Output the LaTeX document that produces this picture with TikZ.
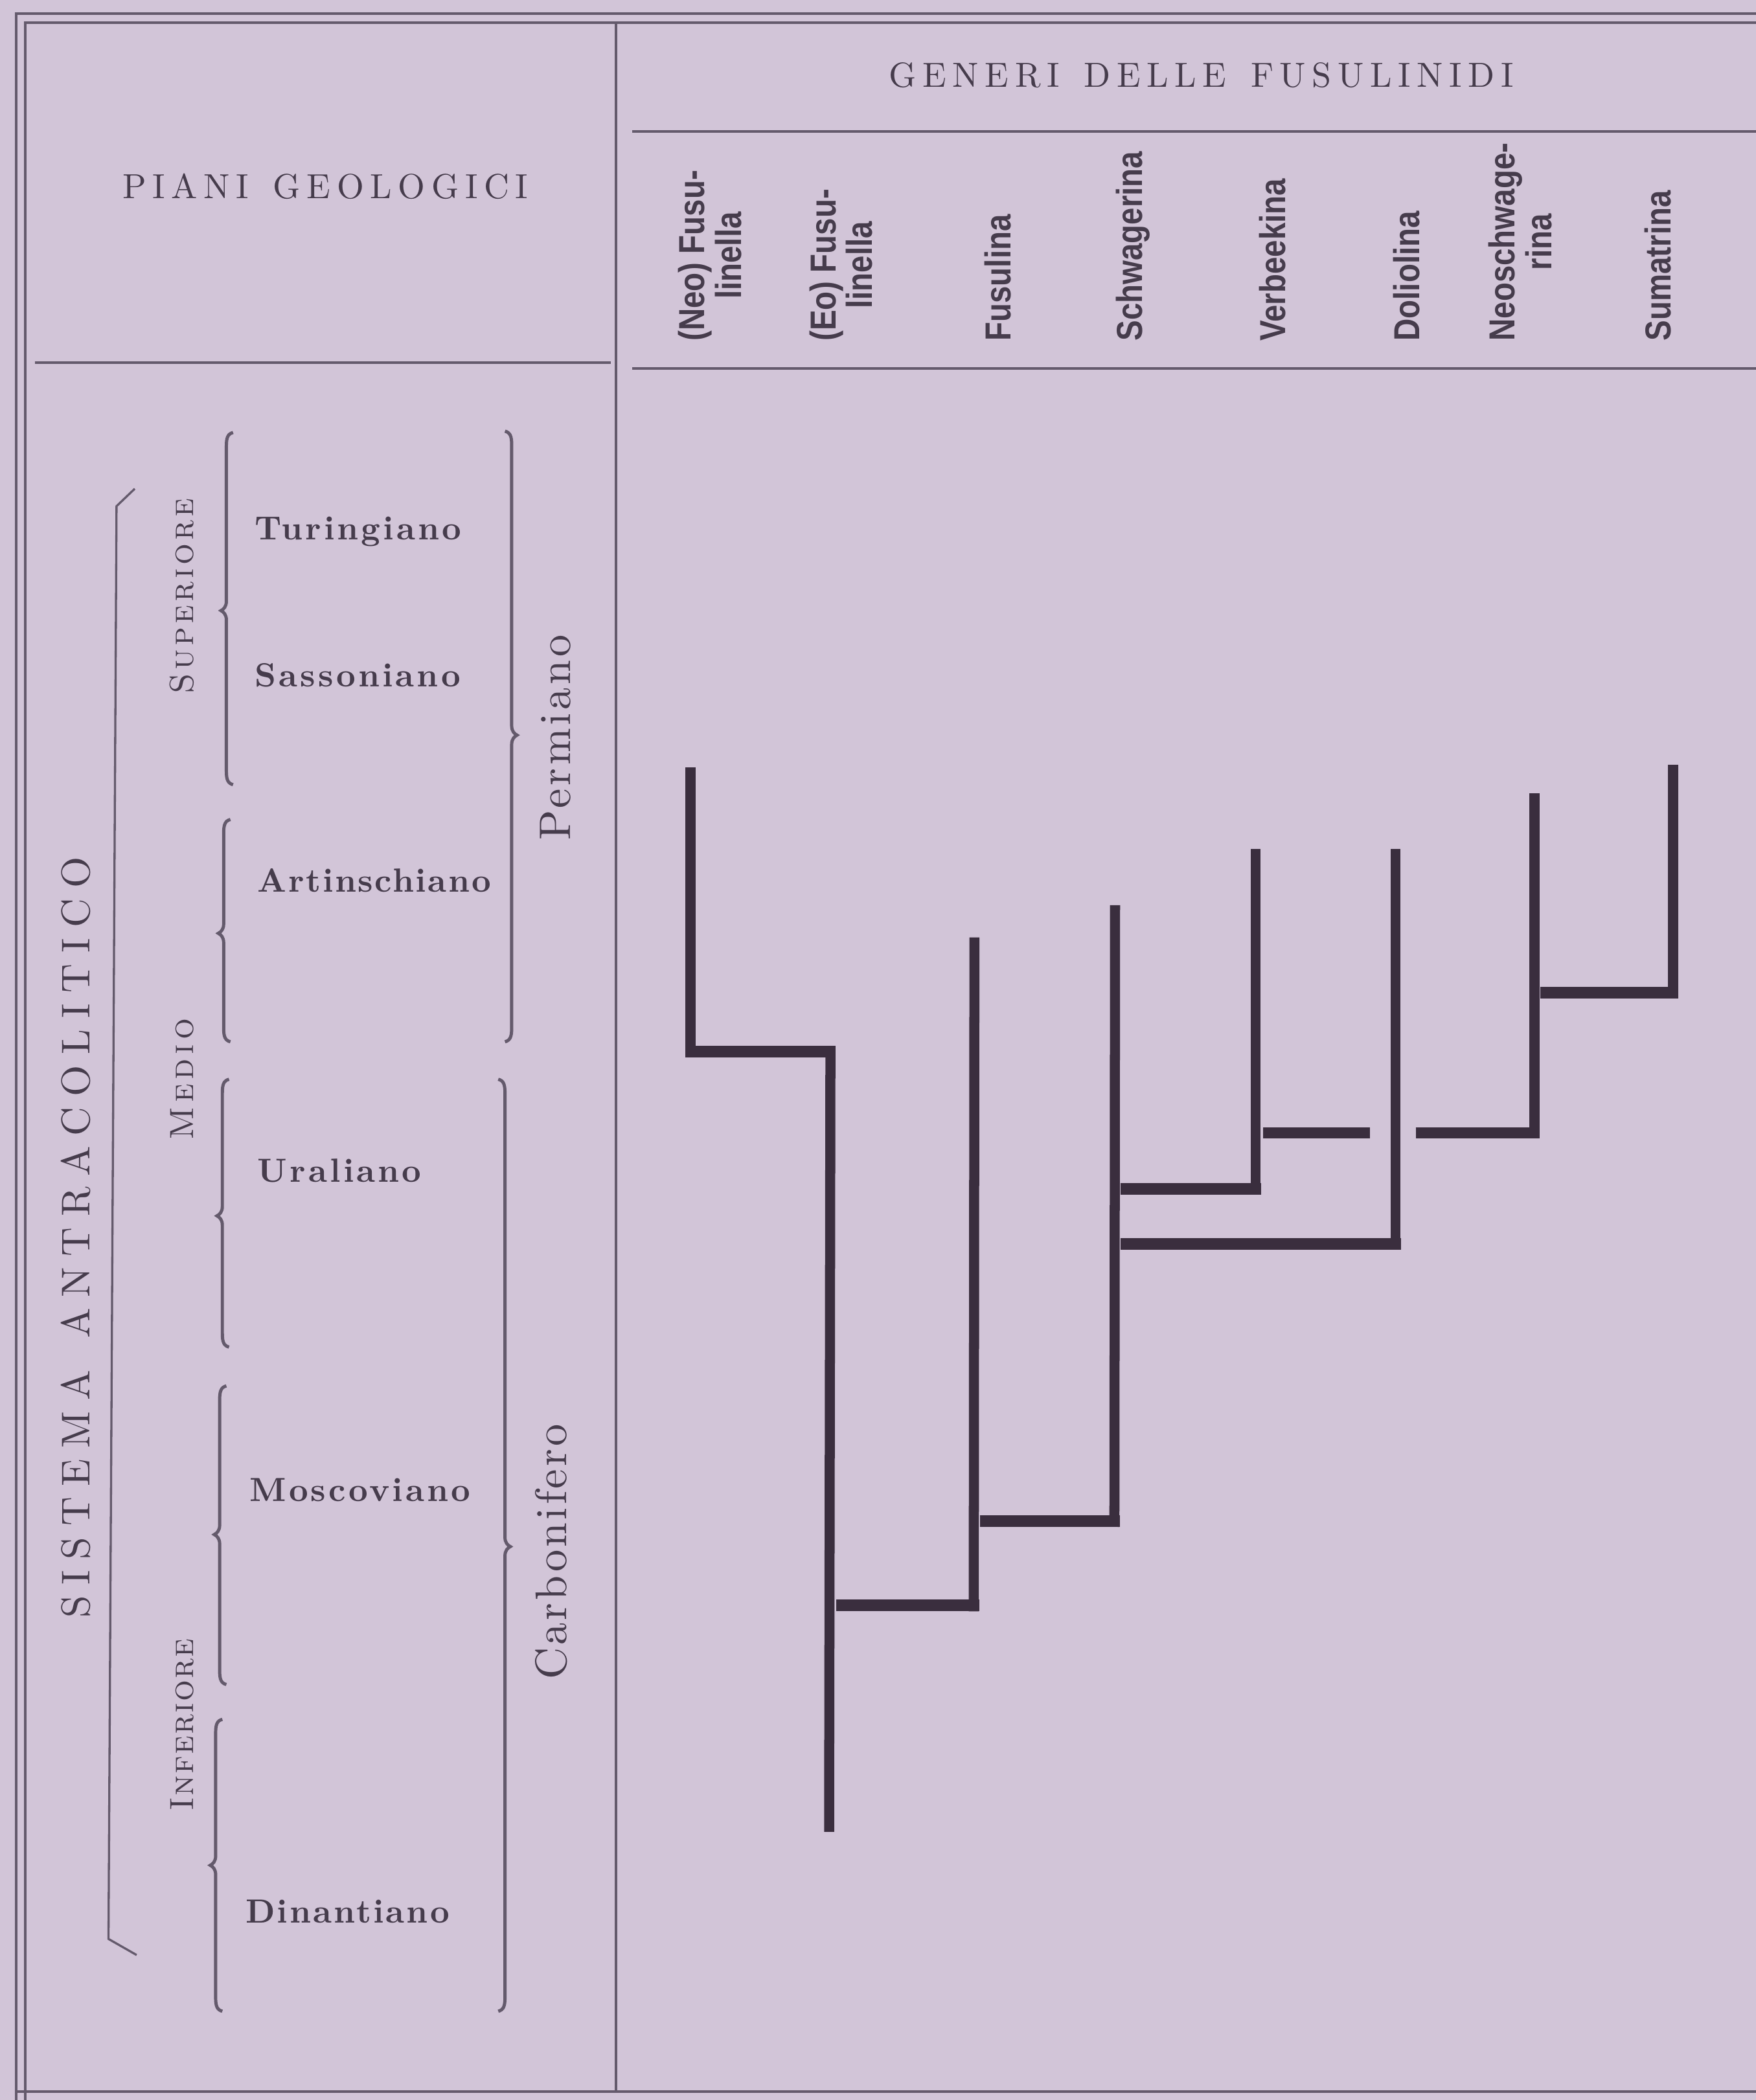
\documentclass[tikz,border=0pt]{standalone}
\usepackage{fontspec}
\setmainfont{lmroman10-regular.otf}[BoldFont=lmroman10-bold.otf, SmallCapsFont=lmromancaps10-regular.otf]
\newfontfamily\genfont{Liberation Sans}[FakeStretch=0.85]
\definecolor{paper}{RGB}{210,197,216}
\definecolor{ink}{RGB}{58,46,62}
\definecolor{rulec}{RGB}{100,90,108}
\definecolor{txt}{RGB}{70,60,76}
\newcommand\drawLB[4]{\draw[bracestyle] ({#1+5},#2) .. controls ({#1+1},{#2+1}) and (#1,{#2+4}) .. (#1,{#2+10}) -- (#1,{#3-7}) .. controls (#1,{#3-3}) and ({#1-2},{#3-1}) .. ({#1-4},#3) .. controls ({#1-2},{#3+1}) and (#1,{#3+3}) .. (#1,{#3+7}) -- (#1,{#4-10}) .. controls (#1,{#4-4}) and ({#1+1},{#4-1}) .. ({#1+5},#4);}
\newcommand\drawRB[4]{\draw[bracestyle] ({#1-5},#2) .. controls ({#1-1},{#2+1}) and (#1,{#2+4}) .. (#1,{#2+10}) -- (#1,{#3-7}) .. controls (#1,{#3-3}) and ({#1+2},{#3-1}) .. ({#1+4},#3) .. controls ({#1+2},{#3+1}) and (#1,{#3+3}) .. (#1,{#3+7}) -- (#1,{#4-10}) .. controls (#1,{#4-4}) and ({#1-1},{#4-1}) .. ({#1-5},#4);}
\tikzset{
  frameline/.style={draw=rulec, line width=1pt},
  bracestyle/.style={draw=rulec, line width=1.2pt},
  bracketline/.style={draw=rulec, line width=0.8pt},
  vbar/.style={draw=ink, line width=3.75pt, line cap=butt},
  hbar/.style={draw=ink, line width=4.3pt, line cap=butt},
  genus/.style={rotate=90, anchor=west, inner sep=0pt, align=center, text=txt,
    font=\genfont\bfseries\fontsize{13.5}{13.7}\selectfont},
  stage/.style={anchor=base west, inner sep=0pt, text=txt,
    font=\fontsize{12.5}{15}\selectfont\bfseries\addfontfeature{LetterSpace=#1}},
  stage/.default=8,
  heading/.style={anchor=base, inner sep=0pt, text=txt,
    font=\fontsize{13}{15}\selectfont\addfontfeature{LetterSpace=18}},
  sysname/.style={rotate=90, anchor=base, inner sep=0pt, text=txt,
    font=\fontsize{15}{18}\selectfont\addfontfeature{LetterSpace=27}},
  subname/.style={rotate=90, anchor=base, inner sep=0pt, text=txt,
    font=\fontsize{12.5}{15}\selectfont\scshape\addfontfeature{LetterSpace=#1}},
  period/.style={rotate=90, anchor=base, inner sep=0pt, text=txt,
    font=\fontsize{16.5}{19}\selectfont\addfontfeature{LetterSpace=#1}}
}
\begin{document}
\begin{tikzpicture}[x=0.5pt,y=-0.5pt]
\useasboundingbox (0,0) rectangle (1311,1568.3);
\fill[paper] (0,0) rectangle (1311,1568.3);
% frame
\draw[frameline] (1311,10) -- (12,10) -- (12,1568.3);
\draw[frameline] (1311,17) -- (19,17) -- (19,1568.3);
\draw[frameline] (12,1562) -- (1311,1562);
\draw[frameline] (460,17) -- (460,1562);
\draw[frameline] (26,271) -- (456,271);
\draw[frameline] (472,98) -- (1311,98);
\draw[frameline] (472,275) -- (1311,275);
% headings
\node[heading] (piani) at (243,148) {PIANI\hspace{0.7em}GEOLOGICI};
\node[heading] (generi) at (897,65) {GENERI\hspace{0.7em}DELLE\hspace{0.7em}FUSULINIDI};
% genera
\node[genus] (neo) at (530,255) {(Neo) Fusu-\\linella};
\node[genus] (eo) at (628,255) {(Eo) Fusu-\\linella};
\node[genus] (fus) at (745,255) {Fusulina};
\node[genus] (sch) at (846,255) {Schwagerina};
\node[genus] (ver) at (950,255) {Verbeekina};
\node[genus] (dol) at (1050,255) {Doliolina};
\node[genus] (nsc) at (1135,255) {Neoschwage-\\rina};
\node[genus] (sum) at (1238,255) {Sumatrina};
% left column texts
\node[sysname] (sistema) at (67,924) {SISTEMA\hspace{0.8em}ANTRACOLITICO};
\node[subname=10] (sup) at (144.5,445) {Superiore};
\node[subname=13] (med) at (144.5,806) {Medio};
\node[subname=4] (inf) at (144.5,1288) {Inferiore};
\node[stage] (tur) at (190,403) {Turingiano};
\node[stage] (sas) at (190,513) {Sassoniano};
\node[stage=5] (art) at (192,666) {Artinschiano};
\node[stage] (ura) at (192,883) {Uraliano};
\node[stage] (mos) at (186,1121) {Moscoviano};
\node[stage=6] (din) at (183,1436) {Dinantiano};
\node[period=7] (perm) at (426,551) {Permiano};
\node[period=6] (carb) at (423,1159) {Carbonifero};
% bracket of the system
\coordinate (bk1) at (100.6,365);
\coordinate (bk2) at (87,378);
\coordinate (bk3) at (81,1448);
\coordinate (bk4) at (102,1460);
\draw[bracketline] (bk1) -- (bk2) -- (bk3) -- (bk4);
% braces
\drawLB{169}{323}{456}{586}
\drawLB{167}{612}{697}{778}
\drawLB{166}{806}{908}{1006}
\drawLB{164}{1035}{1146}{1258}
\drawLB{161}{1284}{1393}{1502}
\drawRB{382}{322}{549}{778}
\drawRB{377}{806}{1155}{1502}
% ranges of the genera
\coordinate (neo-t) at (515.5,573);   \coordinate (neo-b) at (515.5,789.8);
\coordinate (eo-t) at (620,781.2);    \coordinate (eo-b) at (619,1368);
\coordinate (fus-t) at (727.5,700);   \coordinate (fus-b) at (727,1203.3);
\coordinate (sch-t) at (832.5,676);   \coordinate (sch-b) at (832,1140.3);
\coordinate (ver-t) at (937.5,634);   \coordinate (ver-b) at (937.5,892.3);
\coordinate (dol-t) at (1042,634);    \coordinate (dol-b) at (1042,933.3);
\coordinate (nsc-t) at (1145.7,592.5);\coordinate (nsc-b) at (1145.7,850.3);
\coordinate (sum-t) at (1249,571);    \coordinate (sum-b) at (1249,745.8);
\draw[vbar] (neo-t) -- (neo-b);
\draw[vbar] (eo-t) -- (eo-b);
\draw[vbar] (fus-t) -- (fus-b);
\draw[vbar] (sch-t) -- (sch-b);
\draw[vbar] (ver-t) -- (ver-b);
\draw[vbar] (dol-t) -- (dol-b);
\draw[vbar] (nsc-t) -- (nsc-b);
\draw[vbar] (sum-t) -- (sum-b);
% links
\coordinate (l1a) at (511.6,785.5);  \coordinate (l1b) at (624,785.5);
\coordinate (l2a) at (624.5,1199);   \coordinate (l2b) at (731,1199);
\coordinate (l3a) at (731.5,1136);   \coordinate (l3b) at (836.2,1136);
\coordinate (l4a) at (836.5,888);    \coordinate (l4b) at (941.4,888);
\coordinate (l5a) at (836.5,929);    \coordinate (l5b) at (1045.9,929);
\coordinate (l6a) at (943,846);      \coordinate (l6b) at (1023,846);
\coordinate (l7a) at (1057,846);     \coordinate (l7b) at (1149.5,846);
\coordinate (l8a) at (1150,741.5);   \coordinate (l8b) at (1252.8,741.5);
\draw[hbar] (l1a) -- (l1b);
\draw[hbar] (l2a) -- (l2b);
\draw[hbar] (l3a) -- (l3b);
\draw[hbar] (l4a) -- (l4b);
\draw[hbar] (l5a) -- (l5b);
\draw[hbar] (l6a) -- (l6b);
\draw[hbar] (l7a) -- (l7b);
\draw[hbar] (l8a) -- (l8b);
\end{tikzpicture}
\end{document}
